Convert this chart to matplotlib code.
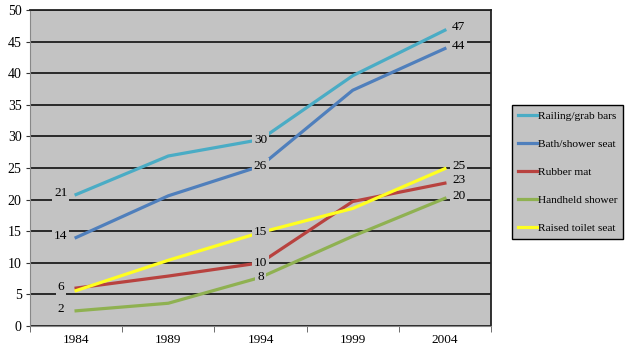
import numpy as np
import matplotlib.pyplot as plt

# data
years = ['1984', '1989', '1994', '1999', '2004']
railing = [20.8, 26.9, 29.5, 39.6, 46.8]
bath_seat = [14.0, 20.6, 25.3, 37.3, 43.9]
rubber_mat = [6.0, 7.9, 10.0, 19.7, 22.6]
handheld = [2.4, 3.6, 7.7, 14.2, 20.2]
toilet_seat = [5.6, 10.4, 14.8, 18.6, 24.9]

# labels shown at 1984, 1994, 2004 (the toilet seat "6" sits under the rubber mat one)
railing_lbl = ['21', '30', '47']
bath_lbl = ['14', '26', '44']
rubber_lbl = ['6', '10', '23']
handheld_lbl = ['2', '8', '20']
toilet_lbl = [None, '15', '25']

series = [
    ('Railing/grab bars', railing, railing_lbl, '#4aacc5'),
    ('Bath/shower seat', bath_seat, bath_lbl, '#4f7fbc'),
    ('Rubber mat', rubber_mat, rubber_lbl, '#b8423f'),
    ('Handheld shower', handheld, handheld_lbl, '#8fb151'),
    ('Raised toilet seat', toilet_seat, toilet_lbl, '#ffff20'),
]

plt.rcParams['font.family'] = ['Liberation Serif', 'DejaVu Serif']

fig = plt.figure(figsize=(6.3, 3.51), dpi=100)
ax = fig.add_axes([30 / 630, 1 - 326 / 351, 461 / 630, 316 / 351])
bg = '#c3c3c3'
ax.set_facecolor(bg)

x = np.arange(len(years))
ax.set_xlim(-0.5, len(years) - 0.5)
ax.set_ylim(0, 50)
ax.set_yticks(np.arange(0, 51, 5))
ax.set_xticks(x)
ax.set_xticklabels(years)
ax.set_xticks(np.arange(-0.5, len(years), 1), minor=True)
ax.tick_params(axis='x', which='major', length=0, labelsize=9.5, pad=6)
ax.tick_params(axis='x', which='minor', length=4, direction='out', color='#555555')
ax.tick_params(axis='y', length=3, direction='out', labelsize=10, pad=3, color='#333333')
ax.yaxis.grid(True, color='black', linewidth=1.1)
ax.set_axisbelow(True)
for s in ['top', 'right']:
    ax.spines[s].set_color('#222222')
    ax.spines[s].set_linewidth(1.3)
ax.spines['left'].set_color('#888888')
ax.spines['bottom'].set_color('#888888')

lbl_idx = [0, 2, 4]
offsets = [(-11, 1), (0, 0), (10, 2)]
for name, vals, lbls, col in series:
    ax.plot(x, vals, color=col, linewidth=2.3, label=name, zorder=3)
    for i, txt, off in zip(lbl_idx, lbls, offsets):
        if txt is None:
            continue
        ax.annotate(txt, (x[i], vals[i]), xytext=off, textcoords='offset points',
                    ha='center', va='center', fontsize=9.5, zorder=5,
                    bbox=dict(boxstyle='square,pad=0.15', fc=bg, ec='none'))

leg = fig.legend(loc='upper left', bbox_to_anchor=(512 / 630, 1 - 105 / 351),
                 fontsize=8.2, frameon=True, fancybox=False, facecolor=bg,
                 edgecolor='black', framealpha=1, handlelength=1.7,
                 handletextpad=0.1, labelspacing=1.6, borderpad=0.5,
                 borderaxespad=0)
leg.get_frame().set_linewidth(1.0)
for line in leg.get_lines():
    line.set_linewidth(2.3)

fig.savefig('out.png', dpi=100)
